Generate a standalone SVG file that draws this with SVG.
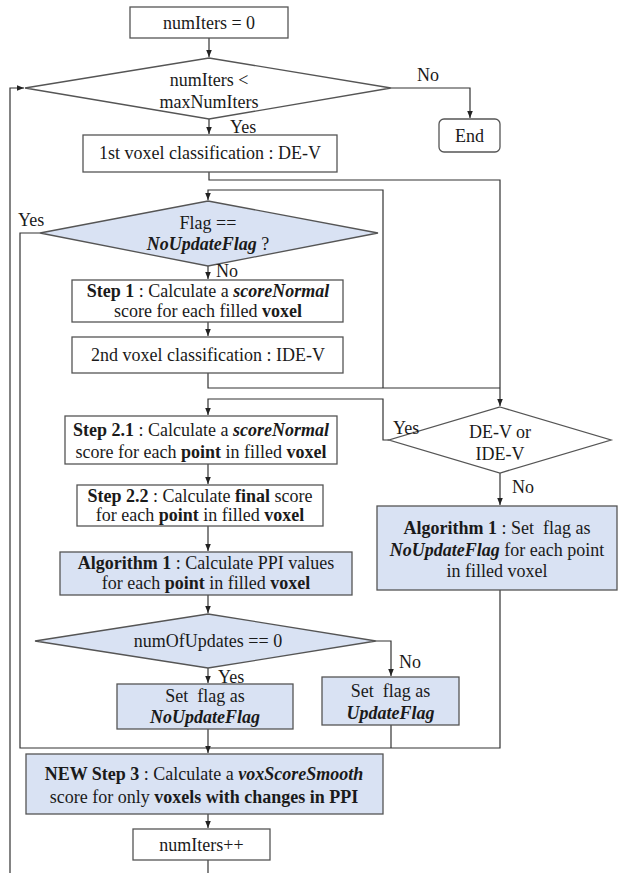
<svg xmlns="http://www.w3.org/2000/svg" width="619" height="873" viewBox="0 0 619 873">
<defs>
<marker id="ah" markerWidth="8" markerHeight="8" refX="7" refY="4" orient="auto" markerUnits="userSpaceOnUse">
<path d="M0,1.2 L7,4 L0,6.8 Z" fill="#222"/>
</marker>
<style>
.box{fill:#fff;stroke:#555;stroke-width:1.3}
.blue{fill:#d9e2f3;stroke:#555;stroke-width:1.3}
.con{fill:none;stroke:#333;stroke-width:1.2}
.arr{fill:none;stroke:#333;stroke-width:1.2;marker-end:url(#ah)}
text{font-family:"Liberation Serif","Times New Roman",serif;font-size:18px;fill:#1a1a1a}
.c{text-anchor:middle}
.b{font-weight:bold}
.bi{font-weight:bold;font-style:italic}
</style>
</defs>
<rect width="619" height="873" fill="#fff"/>
<g id="connectors">
<path class="arr" d="M209,38 V57"/>
<path class="arr" d="M10,873 V88 H24"/>
<path class="arr" d="M391,88 H470 V118"/>
<path class="arr" d="M209,119 V134"/>
<path class="arr" d="M209,172 V180 H500 V406"/>
<path class="arr" d="M383,388 V190 H208 V200"/>
<path class="arr" d="M208,266 V279"/>
<path class="arr" d="M208,322 V336"/>
<path class="con" d="M208,373 V388 H500"/>
<path class="arr" d="M389,440 H383 V399 H208 V415"/>
<path class="arr" d="M500,473 V505"/>
<path class="arr" d="M208,464 V484"/>
<path class="arr" d="M208,526 V551"/>
<path class="arr" d="M208,595 V613"/>
<path class="arr" d="M208,668 V683"/>
<path class="arr" d="M376,641 H391 V676"/>
<path class="con" d="M40,233 H20 V748 H500 V590"/>
<path class="con" d="M391,725 V748"/>
<path class="arr" d="M208,729 V753"/>
<path class="arr" d="M208,814 V828"/>
<path class="con" d="M208,860 V873"/>
</g>
<g id="n_init">
<rect class="box" x="130" y="7" width="158" height="31"/>
<text class="c" x="209" y="29">numIters = 0</text>
</g>
<g id="n_cond1">
<polygon class="box" points="209,58 391,88 209,119 25,88"/>
<text class="c" x="209" y="86">numIters &lt;</text>
<text class="c" x="209" y="108">maxNumIters</text>
</g>
<g id="lbl_no1"><text x="417" y="81">No</text></g>
<g id="n_end">
<rect class="box" x="439" y="119" width="61" height="33" rx="5"/>
<text class="c" x="469.5" y="142">End</text>
</g>
<g id="lbl_yes1"><text x="230" y="133">Yes</text></g>
<g id="n_class1">
<rect class="box" x="83" y="135" width="254" height="37"/>
<text class="c" x="210" y="159">1st voxel classification : DE-V</text>
</g>
<g id="n_flag">
<polygon class="blue" points="208,201 378,233 208,266 40,233"/>
<text class="c" x="208" y="229">Flag ==</text>
<text class="c" x="208" y="250"><tspan class="bi">NoUpdateFlag</tspan> ?</text>
</g>
<g id="lbl_yes2"><text x="18" y="226">Yes</text></g>
<g id="lbl_no2"><text x="216" y="277">No</text></g>
<g id="n_step1">
<rect class="box" x="72" y="280" width="271" height="42"/>
<text class="c" x="208" y="297"><tspan class="b">Step 1</tspan> : Calculate a <tspan class="bi">scoreNormal</tspan></text>
<text class="c" x="208" y="317">score for each filled <tspan class="b">voxel</tspan></text>
</g>
<g id="n_class2">
<rect class="box" x="72" y="337" width="271" height="36"/>
<text class="c" x="208" y="361">2nd voxel classification : IDE-V</text>
</g>
<g id="n_devcond">
<polygon class="box" points="500,407 611,440 500,473 389,440"/>
<text class="c" x="500" y="438">DE-V or</text>
<text class="c" x="500" y="460">IDE-V</text>
</g>
<g id="lbl_yes3"><text x="393" y="434">Yes</text></g>
<g id="lbl_no3"><text x="512" y="493">No</text></g>
<g id="n_alg1set">
<rect class="blue" x="377" y="506" width="240" height="84"/>
<text class="c" x="497" y="534"><tspan class="b">Algorithm 1</tspan> : Set&#160; flag as</text>
<text class="c" x="497" y="556"><tspan class="bi">NoUpdateFlag</tspan> for each point</text>
<text class="c" x="497" y="577">in filled voxel</text>
</g>
<g id="n_step21">
<rect class="box" x="65" y="416" width="272" height="48"/>
<text class="c" x="201" y="436"><tspan class="b">Step 2.1</tspan> : Calculate a <tspan class="bi">scoreNormal</tspan></text>
<text class="c" x="201" y="458">score for each <tspan class="b">point</tspan> in filled <tspan class="b">voxel</tspan></text>
</g>
<g id="n_step22">
<rect class="box" x="77" y="485" width="246" height="41"/>
<text class="c" x="200" y="502"><tspan class="b">Step 2.2</tspan> : Calculate <tspan class="b">final</tspan> score</text>
<text class="c" x="200" y="521">for each <tspan class="b">point</tspan> in filled <tspan class="b">voxel</tspan></text>
</g>
<g id="n_alg1ppi">
<rect class="blue" x="60" y="552" width="292" height="43"/>
<text class="c" x="206" y="569"><tspan class="b">Algorithm 1</tspan> : Calculate PPI values</text>
<text class="c" x="206" y="589">for each <tspan class="b">point</tspan> in filled <tspan class="b">voxel</tspan></text>
</g>
<g id="n_updcond">
<polygon class="blue" points="208,614 376,641 208,668 35,641"/>
<text class="c" x="208" y="647">numOfUpdates == 0</text>
</g>
<g id="lbl_yes4"><text x="218" y="683">Yes</text></g>
<g id="lbl_no4"><text x="399" y="668">No</text></g>
<g id="n_setno">
<rect class="blue" x="117" y="684" width="176" height="45"/>
<text class="c" x="205" y="702">Set&#160; flag as</text>
<text class="c bi" x="205" y="723">NoUpdateFlag</text>
</g>
<g id="n_setupd">
<rect class="blue" x="322" y="677" width="137" height="48"/>
<text class="c" x="390.5" y="697">Set&#160; flag as</text>
<text class="c bi" x="390.5" y="719">UpdateFlag</text>
</g>
<g id="n_step3">
<rect class="blue" x="26" y="754" width="357" height="60"/>
<text class="c" x="204" y="780"><tspan class="b">NEW Step 3</tspan> : Calculate a <tspan class="bi">voxScoreSmooth</tspan></text>
<text class="c" x="204" y="803">score for only <tspan class="b">voxels with changes in PPI</tspan></text>
</g>
<g id="n_inc">
<rect class="box" x="133" y="829" width="137" height="31"/>
<text class="c" x="201.5" y="851">numIters++</text>
</g>
</svg>
